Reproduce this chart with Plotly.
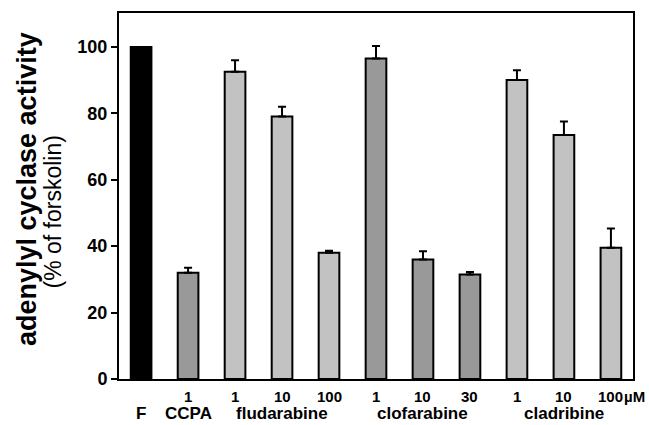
import plotly.graph_objects as go

labels = ["F", "CCPA 1", "flu 1", "flu 10", "flu 100", "clo 1", "clo 10", "clo 30", "cla 1", "cla 10", "cla 100"]
values = [100, 32, 92.5, 79, 38, 96.5, 36, 31.5, 90, 73.5, 39.5]
errors = [0, 1.5, 3.5, 3, 0.6, 3.8, 2.5, 0.7, 3, 4, 5.8]
colors = ["#000000", "#999999", "#c2c2c2", "#c2c2c2", "#c2c2c2", "#999999", "#999999", "#999999",
          "#c2c2c2", "#c2c2c2", "#c2c2c2"]
conc_labels = ["", "1", "1", "10", "100", "1", "10", "30", "1", "10", "100"]
group_labels = [(0, "F"), (1, "CCPA"), (3, "fludarabine"), (6, "clofarabine"), (9, "cladribine")]
yticks = [0, 20, 40, 60, 80, 100]
title_main = "adenylyl cyclase activity"
title_sub = "(% of forskolin)"

font = "Arial, Liberation Sans, sans-serif"
xs = list(range(len(labels)))

fig = go.Figure()
fig.add_trace(go.Bar(
    x=xs, y=values, width=0.44,
    marker=dict(color=colors, line=dict(color="black", width=2)),
    error_y=dict(type="data", symmetric=False, array=errors, arrayminus=[0] * len(errors),
                 color="black", thickness=2, width=4),
))

annotations = []
for i, t in enumerate(conc_labels):
    if t:
        annotations.append(dict(x=i, y=0, xref="x", yref="paper", text=f"<b>{t}</b>", showarrow=False,
                                yanchor="middle", yshift=-17, font=dict(family=font, size=15, color="black")))
annotations.append(dict(x=10, y=0, xref="x", yref="paper", text="<b>µM</b>", showarrow=False,
                        xanchor="left", yanchor="middle", xshift=11, yshift=-17,
                        font=dict(family=font, size=15, color="black")))
for i, t in group_labels:
    annotations.append(dict(x=i, y=0, xref="x", yref="paper", text=f"<b>{t}</b>", showarrow=False,
                            yanchor="middle", yshift=-34, font=dict(family=font, size=17, color="black")))
annotations.append(dict(x=0, y=0.519, xref="paper", yref="paper", text=f"<b>{title_main}</b>", showarrow=False,
                        textangle=-90, xanchor="center", yanchor="middle", xshift=-92,
                        font=dict(family=font, size=27, color="black")))
annotations.append(dict(x=0, y=0.455, xref="paper", yref="paper", text=title_sub, showarrow=False,
                        textangle=-90, xanchor="center", yanchor="middle", xshift=-66,
                        font=dict(family=font, size=23, color="black")))

fig.update_layout(
    width=649, height=425,
    margin=dict(l=119, r=16, t=13, b=46),
    plot_bgcolor="white", paper_bgcolor="white",
    showlegend=False,
    annotations=annotations,
    xaxis=dict(range=[-0.47, 10.47], showticklabels=False, ticks="", showgrid=False, zeroline=False,
               showline=True, linecolor="black", linewidth=2, mirror=True),
    yaxis=dict(range=[0, 110.2], tickvals=yticks, ticktext=[f"<b>{v}</b>" for v in yticks],
               ticks="outside", ticklen=6, tickwidth=2, tickcolor="black",
               showgrid=False, zeroline=False, showline=True, linecolor="black", linewidth=2, mirror=True,
               tickfont=dict(family=font, size=18, color="black")),
)

fig.write_html("out.html")
